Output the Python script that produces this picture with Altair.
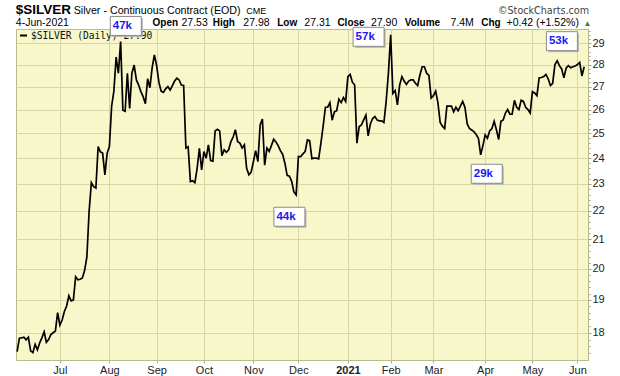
import altair as alt
import pandas as pd
import numpy as np

# ---- data (daily closes) ----
prices = [
    17.45, 17.84, 17.85, 17.87, 17.79, 17.87, 17.47, 17.42, 17.66, 17.50,
    17.70, 17.85, 18.03, 17.72, 17.80, 17.95, 18.00, 18.05, 18.61, 18.23,
    18.38, 18.64, 18.81, 19.13, 18.97, 19.00, 19.74, 19.64, 19.66, 19.70,
    19.95, 20.40, 22.00, 23.05, 22.90, 22.85, 24.46, 24.25, 24.20, 23.35,
    24.19, 24.46, 26.15, 26.80, 28.35, 27.60, 29.08, 25.97, 25.93, 27.60,
    26.05, 27.60, 27.98, 27.30, 27.07, 26.78, 26.56, 26.25, 27.35, 26.95,
    27.85, 28.45, 27.95, 27.20, 26.80, 26.75, 26.90, 27.00, 26.85, 27.05,
    27.25, 27.38, 27.30, 27.07, 27.05, 24.40, 24.45, 23.09, 23.12, 23.05,
    23.60, 24.39, 23.54, 24.26, 24.00, 24.53, 23.90, 23.88, 25.10, 25.17,
    25.10, 24.10, 24.33, 24.23, 24.33, 24.66, 24.85, 25.15, 24.66, 24.60,
    24.40, 24.53, 23.60, 23.35, 23.45, 23.86, 24.30, 23.86, 25.35, 25.60,
    23.72, 24.40, 24.27, 24.50, 24.76, 24.65, 24.50, 24.30, 24.15, 23.80,
    23.33, 23.30, 23.10, 22.70, 22.59, 24.06, 24.06, 24.17, 24.26, 24.73,
    24.70, 23.98, 24.00, 24.00, 23.97, 24.60, 25.30, 26.10, 26.10, 26.30,
    25.55, 25.90, 25.95, 26.45, 26.30, 26.52, 26.35, 27.45, 27.55, 27.20,
    27.07, 24.60, 25.28, 25.35, 25.56, 25.76, 24.90, 25.40, 25.62, 25.70,
    25.55, 25.52, 25.52, 25.45, 26.35, 27.60, 29.41, 26.70, 26.83, 26.20,
    27.07, 27.45, 27.25, 27.10, 27.25, 27.30, 27.30, 27.15, 27.05, 27.52,
    27.90, 27.90, 27.60, 27.50, 26.50, 26.60, 26.80, 26.30, 25.45, 25.30,
    25.20, 26.15, 26.15, 26.15, 25.90, 26.10, 25.95, 26.15, 26.35, 26.10,
    25.40, 25.20, 25.14, 25.07, 24.95, 24.80, 24.13, 24.50, 24.94, 24.80,
    25.10, 25.20, 25.50, 25.15, 24.75, 25.50, 25.56, 25.85, 26.00, 25.80,
    25.80, 26.40, 26.10, 26.00, 26.40, 26.35, 26.10, 26.00, 25.85, 26.78,
    26.72, 26.60, 27.40, 27.41, 27.45, 27.55, 27.35, 27.05, 27.15, 28.00,
    28.17, 27.95, 27.80, 27.40, 27.85, 27.95, 27.85, 27.90, 27.93, 28.00,
    28.10, 27.48, 27.90,
]

holidays = ["2020-07-03", "2020-09-07", "2020-11-26", "2020-12-25", "2021-01-01",
            "2021-01-18", "2021-02-15", "2021-04-02", "2021-05-31"]
month_labels = ["Jul", "Aug", "Sep", "Oct", "Nov", "Dec", "2021", "Feb", "Mar", "Apr", "May", "Jun"]
y_labels = list(range(18, 30))

ann_labels = ["47k", "57k", "53k", "44k", "29k"]
ann_day = [48.3, 156.2, 242.1, 121.0, 208.7]
ann_price = [29.84, 29.31, 29.10, 21.79, 23.39]

# ---- derived tables ----
days = pd.bdate_range("2020-06-04", "2021-06-04")
days = days[~days.isin(pd.to_datetime(holidays))]
n = min(len(days), len(prices))
df = pd.DataFrame({"i": np.arange(n), "price": prices[:n]})

month_starts = pd.date_range("2020-07-01", "2021-06-01", freq="MS")
month_idx = [int(np.searchsorted(days.values, m.to_datetime64())) for m in month_starts]
label_expr = " : ".join(f"datum.value == {v} ? '{l}'" for v, l in zip(month_idx, month_labels)) + " : ''"
jan_idx = month_idx[month_labels.index("2021")]

minor = [round(v, 1) for v in np.arange(17.4, 29.61, 0.2)]
is_int = "abs(datum.value - round(datum.value)) < 0.01"

ann = pd.DataFrame({"label": ann_labels, "i": ann_day, "price": ann_price})

BG = "#F8F7C9"
GRID = "#D5D8A6"
EDGE = "#B9BC8C"

x_enc = alt.X("i:Q", scale=alt.Scale(domain=[-0.5, 253.7], nice=False, zero=False),
              axis=alt.Axis(values=month_idx, labelExpr=label_expr, title=None, grid=True,
                            gridColor=GRID, gridWidth=1, tickSize=3, tickColor="#AAAAAA",
                            labelPadding=1, labelFontSize=11, labelFont="Liberation Sans",
                            labelColor="#222222", labelFlush=False, labelOverlap=False,
                            domainColor=EDGE,
                            labelFontWeight={"condition": {"test": f"datum.value == {jan_idx}", "value": "bold"},
                                             "value": "normal"}))
y_enc = alt.Y("price:Q", scale=alt.Scale(type="log", domain=[17.21, 29.69], nice=False, zero=False),
              axis=alt.Axis(orient="right", values=minor, title=None,
                            labelExpr=f"{is_int} ? format(datum.value, 'd') : ''",
                            labelOverlap=False, labelFontSize=11, labelFont="Liberation Sans",
                            labelColor="#222222", labelPadding=1, tickColor="#999999",
                            tickSize={"condition": {"test": is_int, "value": 3}, "value": 2},
                            grid=True, gridColor=GRID, gridWidth=1,
                            gridOpacity={"condition": {"test": is_int, "value": 1}, "value": 0},
                            domainColor=EDGE))

line = alt.Chart(df).mark_line(color="black", strokeWidth=1.7).encode(x=x_enc, y=y_enc)

OX, OY = 16, 29


def txt(s, x, y, size=11, weight="normal", color="#000000", font="Liberation Sans", align="left"):
    return alt.Chart(pd.DataFrame({"t": [s]})).mark_text(
        align=align, baseline="alphabetic", fontSize=size, fontWeight=weight, color=color, font=font
    ).encode(x=alt.value(x - OX), y=alt.value(y - OY), text="t:N")


legend_dash = alt.Chart(pd.DataFrame({"t": [0]})).mark_rule(color="black", strokeWidth=2).encode(
    x=alt.value(20 - OX), x2=alt.value(27 - OX), y=alt.value(35.5 - OY))
legend_txt = txt("$SILVER (Daily) 27.90", 31, 39, size=9.6, font="DejaVu Sans Mono", color="#111111")

shadow = alt.Chart(ann).mark_rect(fill="#B4B4B4", xOffset=-13.5, x2Offset=17, yOffset=-7.5, y2Offset=11).encode(
    x="i:Q", x2="i:Q", y="price:Q", y2="price:Q")
box = alt.Chart(ann).mark_rect(fill="white", stroke="#8A8A8A", strokeWidth=1,
                               xOffset=-15.5, x2Offset=15.5, yOffset=-9.5, y2Offset=9.5).encode(
    x="i:Q", x2="i:Q", y="price:Q", y2="price:Q")
ann_txt = alt.Chart(ann).mark_text(align="left", baseline="middle", dx=-13, dy=0, fontSize=11.5,
                                   fontWeight="bold", color="#1A1AEE", font="Liberation Sans").encode(
    x="i:Q", y="price:Q", text="label:N")

LB = 10      # bold label size
LN = 10.5    # number size
header = [
    txt("$SILVER", 15.8, 13.5, size=13.5, weight="bold"),
    txt("Silver - Continuous Contract (EOD)", 73.7, 13.5, size=10.7),
    txt("CME", 246.3, 13.5, size=9),
    txt("\u00a9StockCharts.com", 589, 13.5, size=9.6, color="#444444", font="DejaVu Sans", align="right"),
    txt("4-Jun-2021", 15.8, 25.8, size=LN),
    txt("Open", 152.5, 25.8, size=LB, weight="bold"),
    txt("27.53", 181.5, 25.8, size=LN),
    txt("High", 212.7, 25.8, size=LB, weight="bold"),
    txt("27.98", 243.3, 25.8, size=LN),
    txt("Low", 277.2, 25.8, size=LB, weight="bold"),
    txt("27.31", 304.3, 25.8, size=LN),
    txt("Close", 337.4, 25.8, size=LB, weight="bold"),
    txt("27.90", 371.0, 25.8, size=LN),
    txt("Volume", 404.8, 25.8, size=LB, weight="bold"),
    txt("7.4M", 450.5, 25.8, size=LN),
    txt("Chg", 481.2, 25.8, size=LB, weight="bold"),
    txt("+0.42 (+1.52%)", 506.5, 25.8, size=LN),
    txt("\u25b2", 583.5, 25.8, size=8, color="#2E8B2E"),
]

chart = alt.layer(line, legend_dash, legend_txt, shadow, box, ann_txt, *header).properties(
    width=572, height=331,
    padding={"left": OX, "top": OY, "right": 32, "bottom": 16},
    autosize="none",
    background="white",
).configure_view(fill=BG, stroke=EDGE, strokeWidth=1)

chart.save("out.html", embed_options={"renderer": "svg", "actions": False})
